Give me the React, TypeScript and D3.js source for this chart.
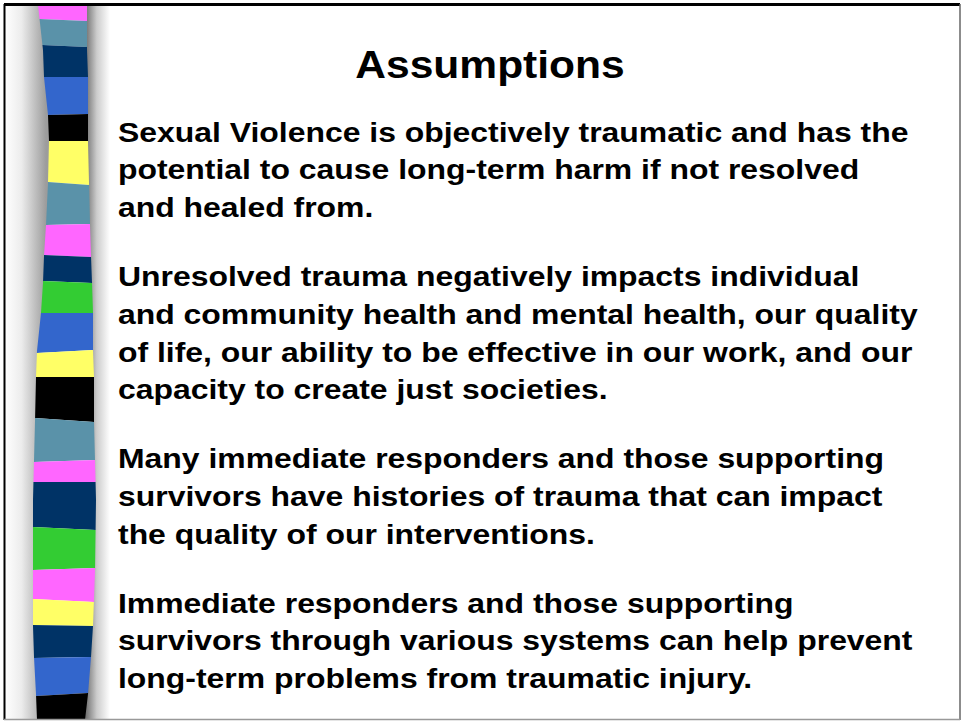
import React, { useRef, useEffect } from 'react';
import * as d3 from 'd3';

// slide text
const title = 'Assumptions';
const paragraphs = [
    [
        'Sexual Violence is objectively traumatic and has the',
        'potential to cause long-term harm if not resolved',
        'and healed from.',
    ],
    [
        'Unresolved trauma negatively impacts individual',
        'and community health and mental health, our quality',
        'of life, our ability to be effective in our work, and our',
        'capacity to create just societies.',
    ],
    [
        'Many immediate responders and those supporting',
        'survivors have histories of trauma that can impact',
        'the quality of our interventions.',
    ],
    [
        'Immediate responders and those supporting',
        'survivors through various systems can help prevent',
        'long-term problems from traumatic injury.',
    ],
];

// decorative stripe: segment colours and boundaries (left y, right y)
const stripeColors = [
    '#ff66ff', '#5a92a9', '#003366', '#3366cc', '#000000', '#ffff66', '#5a92a9', '#ff66ff',
    '#003366', '#33cc33', '#3366cc', '#ffff66', '#000000', '#5a92a9', '#ff66ff',
    '#003366', '#33cc33', '#ff66ff', '#ffff66', '#003366', '#3366cc', '#000000',
];
const breaksLeft = [5, 19, 45, 77, 115, 141, 182, 225, 255, 281, 313, 353, 377, 418, 462, 482, 527, 570, 599, 625, 658, 696, 720];
const breaksRight = [5, 21, 47, 77, 114, 141, 185, 224, 257, 283, 313, 350, 377, 422, 460, 482, 530, 568, 602, 626, 657, 693, 720];

// stripe outline
const edgeY = [5, 50, 77, 115, 141, 183, 225, 256, 283, 313, 351, 377, 422, 461, 500, 571, 626, 657, 694, 720];
const edgeLeft = [38, 43, 44, 48, 49, 48, 46, 44, 43, 41, 37, 36, 35, 34, 33, 33, 33, 34, 36, 37];
const edgeRight = [87, 87, 88, 88, 88, 89, 90, 91, 92, 93, 93, 94, 94, 95, 96, 95, 93, 91, 88, 85];

const W = 961;
const H = 721;

const App = () => {
    const ref = useRef(null);

    useEffect(() => {
        const svg = d3.select(ref.current);
        svg.selectAll('*').remove();

        const y = d3.scaleLinear().domain([0, H]).range([0, H]);
        const xL = d3.scaleLinear().domain(edgeY).range(edgeLeft).clamp(true);
        const xR = d3.scaleLinear().domain(edgeY).range(edgeRight).clamp(true);

        const defs = svg.append('defs');
        const gl = defs.append('linearGradient').attr('id', 'shadeL')
            .attr('gradientUnits', 'userSpaceOnUse').attr('x1', 5).attr('x2', 46).attr('y1', 0).attr('y2', 0);
        gl.append('stop').attr('offset', 0).attr('stop-color', '#ffffff');
        gl.append('stop').attr('offset', 0.4).attr('stop-color', '#ececec');
        gl.append('stop').attr('offset', 1).attr('stop-color', '#9c9c9c');
        const gr = defs.append('linearGradient').attr('id', 'shadeR')
            .attr('gradientUnits', 'userSpaceOnUse').attr('x1', 86).attr('x2', 110).attr('y1', 0).attr('y2', 0);
        gr.append('stop').attr('offset', 0).attr('stop-color', '#747474');
        gr.append('stop').attr('offset', 0.45).attr('stop-color', '#cccccc');
        gr.append('stop').attr('offset', 1).attr('stop-color', '#ffffff');

        // background
        svg.append('rect').attr('width', W).attr('height', H).attr('fill', '#ffffff');

        const ys = d3.range(5, 721, 3);
        const line = d3.line().curve(d3.curveLinear);

        // shading beside stripe
        const leftShade = [[5, 5], ...ys.map(v => [xL(v) + 1, v]), [5, 720]];
        svg.append('path').attr('d', line(leftShade) + 'Z').attr('fill', 'url(#shadeL)');
        const rightShade = [...ys.map(v => [xR(v) - 1, v]), [112, 720], [112, 5]];
        svg.append('path').attr('d', line(rightShade) + 'Z').attr('fill', 'url(#shadeR)');

        // stripe segments
        const seg = svg.append('g');
        stripeColors.forEach((c, i) => {
            const tl = breaksLeft[i], tr = breaksRight[i];
            const bl = breaksLeft[i + 1], br = breaksRight[i + 1];
            const rightSide = d3.range(tr, br, 2).concat([br]).map(v => [xR(y(v)), y(v)]);
            const leftSide = d3.range(bl, tl, -2).concat([tl]).map(v => [xL(y(v)), y(v)]);
            const pts = [[xL(y(tl)), y(tl)], ...rightSide, ...leftSide];
            seg.append('path').attr('d', d3.line().curve(d3.curveLinearClosed)(pts)).attr('fill', c);
        });

        // frame
        svg.append('line').attr('x1', 4).attr('x2', 960).attr('y1', 4.5).attr('y2', 4.5)
            .attr('stroke', '#000').attr('stroke-width', 3);
        svg.append('line').attr('x1', 4.5).attr('x2', 4.5).attr('y1', 4).attr('y2', 720)
            .attr('stroke', '#000').attr('stroke-width', 2);
        svg.append('line').attr('x1', 960).attr('x2', 960).attr('y1', 4).attr('y2', 720)
            .attr('stroke', '#666').attr('stroke-width', 1.5);
        svg.append('line').attr('x1', 4).attr('x2', 960).attr('y1', 719.5).attr('y2', 719.5)
            .attr('stroke', '#999').attr('stroke-width', 1.5);

        const font = '"Liberation Sans", Arial, Helvetica, sans-serif';

        svg.append('text')
            .attr('transform', 'translate(490,78) scale(1.12,1)')
            .attr('text-anchor', 'middle')
            .attr('font-family', font).attr('font-weight', 'bold').attr('font-size', 38)
            .attr('fill', '#000')
            .text(title);

        const lineH = 37.8;
        const gap = 31;
        let base = 141.5;
        const body = svg.append('g')
            .attr('font-family', font).attr('font-weight', 'bold').attr('font-size', 28)
            .attr('fill', '#000');
        paragraphs.forEach(p => {
            p.forEach(t => {
                body.append('text')
                    .attr('transform', `translate(118,${base}) scale(1.14,1)`)
                    .text(t);
                base += lineH;
            });
            base += gap;
        });
    }, []);

    return (
        <svg ref={ref} width={W} height={H}
            style={{ position: 'absolute', left: 0, top: 0, display: 'block' }} />
    );
};

export default App;
